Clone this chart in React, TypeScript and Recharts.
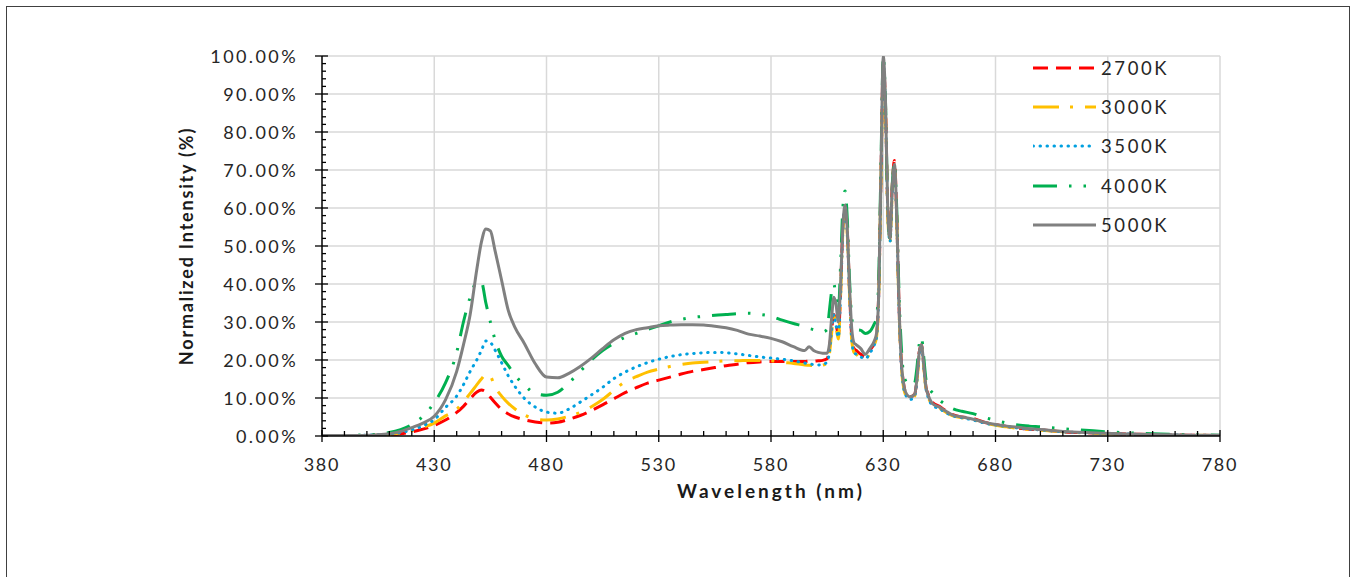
import React from "react";
import { LineChart, Line, XAxis, YAxis, CartesianGrid } from "recharts";

const WAVELENGTHS = [
  380, 385, 390, 395, 400, 405, 410, 415, 420, 425,
  430, 435, 440, 443, 446, 449, 451, 453, 455, 457, 460, 463, 466,
  470, 475, 480, 485, 490, 495, 500, 505, 510, 515, 520, 525, 530,
  535, 540, 545, 550, 555, 560, 565, 570, 575, 580, 585, 590, 595, 597,
  599, 601, 603, 605, 606, 607, 608, 609, 610, 611, 612, 613, 614, 615, 616, 617, 618,
  620, 622, 624, 626, 627, 628, 629, 630, 631, 632, 633, 634, 635, 636, 637, 638, 639, 640,
  642, 644, 645, 646, 647, 648, 649, 650,
  652, 655, 658, 661, 665, 670, 675, 680, 685, 690, 695, 700, 710, 720, 730, 740, 750, 760, 770, 780,
];

const K2700 = [
  0, 0, 0, 0, 0.1, 0.2, 0.3, 0.6, 1.1, 1.8,
  2.8, 4.2, 6.2, 7.8, 9.8, 11.6, 12.1, 11.6, 10.2, 8.8, 7, 5.8, 5,
  4.3, 3.7, 3.4, 3.6, 4.4, 5.4, 6.7, 8.2, 9.8, 11.4, 12.7, 13.9, 14.7,
  15.5, 16.3, 17, 17.5, 18, 18.5, 18.9, 19.3, 19.5, 19.6, 19.6, 19.6, 19.6, 19.7,
  19.7, 19.8, 19.9, 20.3, 23, 28, 32, 29.5, 26.5, 38, 55, 60, 54, 38, 26, 23, 22.5,
  21.5, 20.8, 22.5, 24.5, 26.5, 38, 69, 98, 87, 60, 52, 66, 72.5, 58, 35, 20, 14, 11.3,
  10.3, 11, 15, 22, 24, 19, 13, 11,
  8.8, 7.8, 6.6, 5.6, 5, 4.6, 3.6, 3, 2.5, 2.1, 1.8, 1.6, 1.1, 0.85, 0.65, 0.5, 0.35, 0.25, 0.2, 0.1,
];

const K3000 = [
  0, 0, 0, 0.1, 0.1, 0.2, 0.4, 0.8, 1.4, 2.3,
  3.4, 5.3, 7, 9, 11.2, 13.5, 15, 16.2, 15.7, 13, 10.5, 8.6, 7.1,
  5.6, 4.5, 4.2, 4.5, 5.2, 6.2, 7.7, 9.6, 12, 14.3, 15.6, 16.8, 17.6,
  18.3, 18.8, 19.2, 19.4, 19.6, 19.8, 19.8, 19.9, 19.9, 19.8, 19.4, 19.1, 18.7, 18.6,
  18.5, 18.4, 18.6, 19.3, 21.5, 27, 31.5, 28.5, 25.5, 37, 54, 59.5, 53, 37, 25, 22, 21.5,
  20.5, 20.2, 21.8, 24, 26, 37, 68, 97, 85, 58, 51, 64, 70.5, 57, 34, 19, 13, 10.8,
  9.8, 10.5, 14.5, 21.5, 23.5, 18.5, 12.5, 10.3,
  8.2, 7.3, 6.2, 5.3, 4.8, 4.3, 3.4, 2.8, 2.4, 2.0, 1.7, 1.5, 1.1, 0.8, 0.6, 0.45, 0.35, 0.25, 0.2, 0.1,
];

const K3500 = [
  0, 0, 0, 0.1, 0.2, 0.3, 0.5, 0.9, 1.6, 2.7,
  4.3, 7.5, 10.5, 13.5, 17, 20.1, 22.5, 25, 24.6, 22.7, 19.3, 15.8, 13,
  10, 7.6, 6.3, 6.0, 7.1, 8.9, 10.8, 12.8, 15.1, 16.8, 18.2, 19.3, 20.2,
  20.9, 21.4, 21.7, 21.9, 22, 21.9, 21.6, 21.2, 20.8, 20.5, 20.2, 19.8, 19.2, 19.0,
  18.8, 18.7, 18.8, 19.5, 22, 28, 32, 29, 26, 37, 54, 60, 53, 37, 25, 22, 21.5,
  20.8, 20.3, 21.8, 24, 26, 37, 68, 98, 86, 59, 51, 64, 70.5, 57, 34, 19, 13, 10.8,
  9.6, 10.5, 14.5, 21, 23.5, 18.5, 12.5, 10.2,
  8, 7.2, 6.1, 5.3, 4.8, 4.2, 3.4, 2.9, 2.5, 2.1, 1.8, 1.6, 1.1, 0.85, 0.65, 0.5, 0.35, 0.25, 0.2, 0.1,
];

const K4000 = [
  0.1, 0.1, 0.1, 0.2, 0.3, 0.5, 0.9, 1.7, 3, 5.2,
  8.8, 14, 22, 30, 36.5, 40.5, 40.5, 35, 30, 25.5, 21, 18.5, 16,
  13.5, 11.2, 10.7, 11.5, 14, 17, 20, 22.5, 24.4, 26, 27, 28, 29,
  30, 30.7, 31.2, 31.5, 31.8, 32, 32.2, 32.3, 32, 31.5, 30.5, 29.6, 28.8, 28.3,
  28, 27.6, 27.4, 28, 33, 38, 40, 36, 33, 45, 60, 64.5, 57, 41, 31, 28.5, 28,
  27.8, 27, 27.5, 29.5, 31, 42, 72, 100, 88, 60, 52, 66, 72, 60, 38, 24, 16.5, 14.5,
  13.3, 14, 18, 24, 26, 21, 15, 13,
  11.3, 9.5, 8.2, 7.2, 6.5, 5.9, 4.9, 4.1, 3.4, 2.9, 2.6, 2.4, 1.9, 1.5, 1.1, 0.8, 0.6, 0.4, 0.3, 0.2,
];

const K5000 = [
  0.1, 0.1, 0.1, 0.1, 0.2, 0.3, 0.6, 1.2, 2.2, 3.4,
  5.2, 9.5, 17, 24, 32, 44, 51, 54.5, 54, 49, 41, 33, 28.5,
  24.5, 19, 15.5, 15.3, 16.5, 18.3, 20.5, 23, 25.3, 27, 28, 28.5, 29,
  29.2, 29.3, 29.3, 29.2, 28.9, 28.5, 27.8, 26.8, 26.3, 25.7, 24.8, 23.5, 22.5, 23.5,
  22.5, 22, 21.8, 21.8, 24, 31, 36.5, 34.5, 30, 40, 55, 60.8, 54, 39, 28, 24.5, 24,
  23, 21.5, 23, 25, 27, 38, 70, 100, 88, 60, 52, 65, 71.5, 58, 35, 20, 14, 11.5,
  10.3, 11, 15, 22, 24, 19, 13, 10.8,
  8.5, 7.6, 6.5, 5.5, 5, 4.4, 3.6, 3, 2.6, 2.3, 1.9, 1.7, 1.2, 0.9, 0.7, 0.5, 0.4, 0.3, 0.2, 0.2,
];

const SERIES_NAMES = ["2700K", "3000K", "3500K", "4000K", "5000K"];
const SERIES_VALUES = [K2700, K3000, K3500, K4000, K5000];
const SERIES_COLORS = ["#FF0000", "#FFC000", "#00A0E0", "#00B050", "#808080"];
const SERIES_DASH = ["15 8", "26 11 3 12", "0.5 6.5", "24 12 2.5 12 2.5 12", undefined];
const SERIES_CAP: ("butt" | "round")[] = ["butt", "butt", "round", "butt", "butt"];

const X_TICKS = Array.from({ length: 41 }, (_, i) => 380 + i * 10);
const Y_TICKS = Array.from({ length: 51 }, (_, i) => i * 2);
const X_GRID = [430, 480, 530, 580, 630, 680, 730, 780];
const Y_GRID = [10, 20, 30, 40, 50, 60, 70, 80, 90, 100];

const FONT = "Lato, 'Open Sans', sans-serif";
const TEXT_COLOR = "#262626";

const data = WAVELENGTHS.map((w, i) => {
  const row: Record<string, number> = { w };
  SERIES_NAMES.forEach((n, s) => {
    row[n] = SERIES_VALUES[s][i];
  });
  return row;
});

const XTick = (props: any) => {
  const { x, y, payload } = props;
  const v = payload.value;
  const major = (v - 380) % 50 === 0;
  return (
    <g>
      <line x1={x} x2={x} y1={major ? y - 6 : y - 5} y2={major ? y + 6 : y} stroke="#000" strokeWidth={1.3} />
      {major && (
        <text x={x} y={y + 35} textAnchor="middle" fontSize={18} fontFamily={FONT} fill={TEXT_COLOR} style={{ letterSpacing: 1.8 }}>
          {v}
        </text>
      )}
    </g>
  );
};

const YTick = (props: any) => {
  const { x, y, payload } = props;
  const v = payload.value;
  const major = v % 10 === 0;
  return (
    <g>
      {major ? (
        <line x1={x - 7} x2={x + 6} y1={y} y2={y} stroke="#000" strokeWidth={1.3} />
      ) : (
        <line x1={x} x2={x + 4} y1={y} y2={y} stroke="#000" strokeWidth={1.3} />
      )}
      {major && (
        <text x={x - 24} y={y + 6.5} textAnchor="end" fontSize={18} fontFamily={FONT} fill={TEXT_COLOR} style={{ letterSpacing: 2.4 }}>
          {v.toFixed(2)}%
        </text>
      )}
    </g>
  );
};

export default function App() {
  return (
    <div
      style={{
        position: "absolute",
        left: 6,
        top: 6,
        width: 1342,
        height: 570,
        borderTop: "1px solid #404040",
        borderLeft: "1px solid #404040",
        borderRight: "1px solid #404040",
        background: "#fff",
        fontFamily: FONT,
        overflow: "hidden",
      }}
    >
      <LineChart width={1342} height={560} data={data} margin={{ top: 49, right: 129, bottom: 66, left: 175 }}>
        <CartesianGrid stroke="#d9d9d9" strokeWidth={1.5} horizontalValues={Y_GRID} verticalValues={X_GRID} />
        <XAxis
          dataKey="w"
          type="number"
          domain={[380, 780]}
          ticks={X_TICKS}
          interval={0}
          tickSize={0}
          tickMargin={0}
          tickLine={false}
          tick={<XTick />}
          axisLine={{ stroke: "#000", strokeWidth: 1.5 }}
          height={65}
          allowDataOverflow
          label={{
            value: "Wavelength (nm)",
            position: "insideBottom",
            offset: 3,
            fontSize: 19,
            fontWeight: 700,
            fontFamily: FONT,
            fill: "#1a1a1a",
            style: { letterSpacing: 3, fontWeight: 700, fontFamily: FONT },
          }}
        />
        <YAxis
          type="number"
          domain={[0, 100]}
          ticks={Y_TICKS}
          interval={0}
          tickSize={0}
          tickMargin={0}
          tickLine={false}
          tick={<YTick />}
          axisLine={{ stroke: "#000", strokeWidth: 1.5 }}
          width={140}
          allowDataOverflow
          label={{
            value: "Normalized Intensity (%)",
            angle: -90,
            position: "insideLeft",
            offset: 5,
            fontSize: 18,
            fontWeight: 700,
            fontFamily: FONT,
            fill: "#1a1a1a",
            style: { textAnchor: "middle", letterSpacing: 1.8, fontWeight: 700, fontFamily: FONT },
          }}
        />
        {SERIES_NAMES.map((n, s) => (
          <Line
            key={n}
            type="monotone"
            dataKey={n}
            stroke={SERIES_COLORS[s]}
            strokeWidth={3}
            strokeDasharray={SERIES_DASH[s]}
            strokeLinecap={SERIES_CAP[s]}
            dot={false}
            activeDot={false}
            isAnimationActive={false}
          />
        ))}
      </LineChart>
      <div style={{ position: "absolute", left: 1026, top: 41.4 }}>
        {SERIES_NAMES.map((n, s) => (
          <div key={n} style={{ display: "flex", alignItems: "center", height: 39.2 }}>
            <svg width={64} height={8} style={{ display: "block" }}>
              <line
                x1={0}
                x2={63}
                y1={4}
                y2={4}
                stroke={SERIES_COLORS[s]}
                strokeWidth={3}
                strokeDasharray={SERIES_DASH[s]}
                strokeLinecap={SERIES_CAP[s]}
              />
            </svg>
            <span style={{ marginLeft: 4, fontSize: 18.5, color: TEXT_COLOR, letterSpacing: 2.6, lineHeight: "20px" }}>{n}</span>
          </div>
        ))}
      </div>
    </div>
  );
}
